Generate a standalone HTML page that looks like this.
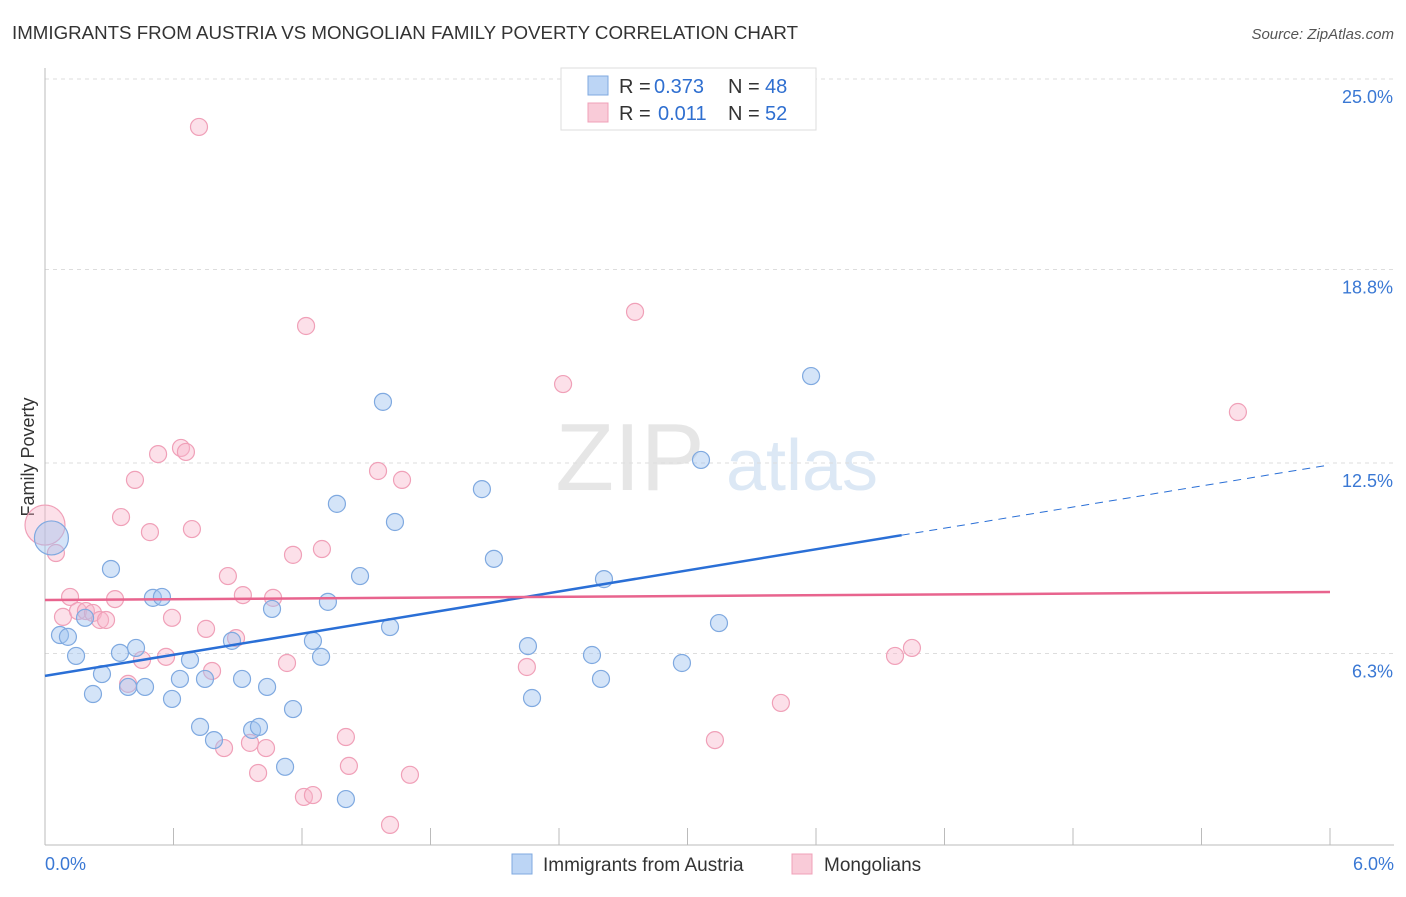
<!DOCTYPE html>
<html><head><meta charset="utf-8"><style>
body{margin:0;background:#fff;font-family:"Liberation Sans",sans-serif}
svg text{font-family:"Liberation Sans",sans-serif}
</style></head><body>
<svg id="c" width="1406" height="892" xmlns="http://www.w3.org/2000/svg">
<text x="12" y="39" font-size="18" fill="#333" textLength="786" lengthAdjust="spacingAndGlyphs">IMMIGRANTS FROM AUSTRIA VS MONGOLIAN FAMILY POVERTY CORRELATION CHART</text>
<text x="1394" y="39" font-size="15" fill="#555" font-style="italic" text-anchor="end">Source: ZipAtlas.com</text>
<text x="34" y="457" font-size="18" fill="#333" transform="rotate(-90 34 457)" text-anchor="middle">Family Poverty</text>
<g><text x="630" y="490" font-size="96" fill="#e6e6e6" font-family="Liberation Serif" text-anchor="middle">ZIP</text><text x="802" y="490" font-size="72" fill="#dce8f5" text-anchor="middle">atlas</text></g>
<g id="grid"></g><g id="marks"></g>
<g>
<rect x="561" y="68" width="255" height="62" fill="#fff" stroke="#ddd"/>
<rect x="588" y="76" width="20" height="19" fill="#bcd5f5" stroke="#7fa9e0"/>
<text x="619" y="93" font-size="20" fill="#333">R =</text><text x="654" y="93" font-size="20" fill="#2f6fd0">0.373</text>
<text x="728" y="93" font-size="20" fill="#333">N =</text><text x="765" y="93" font-size="20" fill="#2f6fd0">48</text>
<rect x="588" y="103" width="20" height="19" fill="#f9cbd8" stroke="#f0a0b8"/>
<text x="619" y="120" font-size="20" fill="#333">R =</text><text x="658" y="120" font-size="20" fill="#2f6fd0">0.011</text>
<text x="728" y="120" font-size="20" fill="#333">N =</text><text x="765" y="120" font-size="20" fill="#2f6fd0">52</text>
</g>
<g>
<rect x="512" y="854" width="20" height="20" fill="#bcd5f5" stroke="#7fa9e0"/>
<text x="543" y="871" font-size="19" fill="#333">Immigrants from Austria</text>
<rect x="792" y="854" width="20" height="20" fill="#f9cbd8" stroke="#f0a0b8"/>
<text x="824" y="871" font-size="19" fill="#333">Mongolians</text>
</g>
</svg>
<script>
const yTicks=[25.0,18.8,12.5,6.3];
const yTickLabels=["25.0%","18.8%","12.5%","6.3%"];
const xTickCount=10;
const xLabels=["0.0%","6.0%"];
const blueX=[0.03,0.07,0.107,0.145,0.187,0.224,0.266,0.308,0.35,0.388,0.425,0.467,0.504,0.546,0.593,0.63,0.677,0.724,0.747,0.789,0.873,0.92,0.967,0.999,1.037,1.06,1.121,1.158,1.251,1.289,1.321,1.363,1.405,1.471,1.578,1.611,1.634,2.04,2.096,2.255,2.274,2.554,2.596,2.61,2.974,3.063,3.147,3.577];
const blueY=[10.06,6.9,6.84,6.22,7.46,4.98,5.63,9.05,6.32,5.21,6.48,5.21,8.11,8.14,4.82,5.47,6.09,3.91,5.47,3.48,6.71,5.47,3.81,3.91,5.21,7.75,2.61,4.49,6.71,6.19,7.98,11.17,1.56,8.82,14.49,7.16,10.58,11.65,9.38,6.54,4.85,6.25,5.47,8.72,5.99,12.6,7.29,15.33];
const pinkX=[0.0,0.051,0.084,0.117,0.154,0.191,0.224,0.257,0.285,0.327,0.355,0.388,0.42,0.453,0.49,0.528,0.565,0.593,0.635,0.658,0.686,0.719,0.752,0.78,0.836,0.854,0.892,0.924,0.957,0.995,1.032,1.065,1.13,1.158,1.209,1.219,1.251,1.293,1.405,1.419,1.555,1.611,1.667,1.704,2.25,2.419,2.755,3.128,3.436,3.969,4.048,5.57];
const pinkY=[10.48,9.57,7.49,8.14,7.68,7.68,7.62,7.39,7.39,8.07,10.74,5.31,11.95,6.09,10.25,12.79,6.19,7.46,12.99,12.86,10.35,23.44,7.1,5.73,3.22,8.82,6.8,8.2,3.39,2.41,3.22,8.11,5.99,9.51,1.63,16.96,1.69,9.7,3.58,2.64,12.24,0.72,11.95,2.35,5.86,15.07,17.42,3.48,4.69,6.22,6.48,14.16];
const blueTrend=[5.57,12.44], blueSolidEnd=4.0;
const pinkTrend=[8.04,8.30];
const NS="http://www.w3.org/2000/svg";
const sx=v=>45+v/6*1285, sy=v=>79+(25-v)*30.72;
function mk(p,t,a){const e=document.createElementNS(NS,t);for(const k in a)e.setAttribute(k,a[k]);p.appendChild(e);return e;}
const g=document.getElementById('grid'), m=document.getElementById('marks');
yTicks.forEach((t,i)=>{
 const l=mk(g,'line',{x1:45,x2:1394,y1:sy(t),y2:sy(t),stroke:'#ddd','stroke-dasharray':'4 4'});
 
 
 const tx=mk(g,'text',{x:1393,y:sy(t)+24,'font-size':18,fill:'#3a78d4','text-anchor':'end'});tx.textContent=yTickLabels[i];
 
 
});
const ax=mk(g,'line',{x1:45,x2:45,y1:68,y2:845,stroke:'#bbb'});


const bx=mk(g,'line',{x1:45,x2:1394,y1:845,y2:845,stroke:'#bbb'});


for(let i=0;i<=xTickCount;i++){const x=sx(6*i/xTickCount);const t=mk(g,'line',{x1:x,x2:x,y1:828,y2:845,stroke:'#bbb'});
 
 }
[[0,'start',45],[1,'end',1394]].forEach(([i,a,x])=>{const t=mk(g,'text',{x:x,y:870,'font-size':18,fill:'#3a78d4','text-anchor':a});t.textContent=xLabels[i];
 
 });
function pts(X,Y,fill,stroke,name){X.forEach((x,i)=>{const r=i==0&&x<0.05?(name=='austria-point'?17:20):8.5;
 const c=mk(m,'circle',{cx:sx(x),cy:sy(Y[i]),r:r,fill:fill,stroke:stroke,'stroke-width':1.2});
 
 });}
pts(pinkX,pinkY,'rgba(248,182,202,0.42)','#f0a0b8','mongolian-point');
pts(blueX,blueY,'rgba(160,196,240,0.45)','#7fa9e0','austria-point');
const bs=t=>blueTrend[0]+(blueTrend[1]-blueTrend[0])*t/6;
const l1=mk(m,'line',{x1:sx(0),y1:sy(bs(0)),x2:sx(blueSolidEnd),y2:sy(bs(blueSolidEnd)),stroke:'#2a6fd6','stroke-width':2.5});


const l2=mk(m,'line',{x1:sx(blueSolidEnd),y1:sy(bs(blueSolidEnd)),x2:sx(6),y2:sy(bs(6)),stroke:'#2a6fd6','stroke-width':1,'stroke-dasharray':'8 6'});


const l3=mk(m,'line',{x1:sx(0),y1:sy(pinkTrend[0]),x2:sx(6),y2:sy(pinkTrend[1]),stroke:'#e8648e','stroke-width':2.5});


</script>
</body></html>
